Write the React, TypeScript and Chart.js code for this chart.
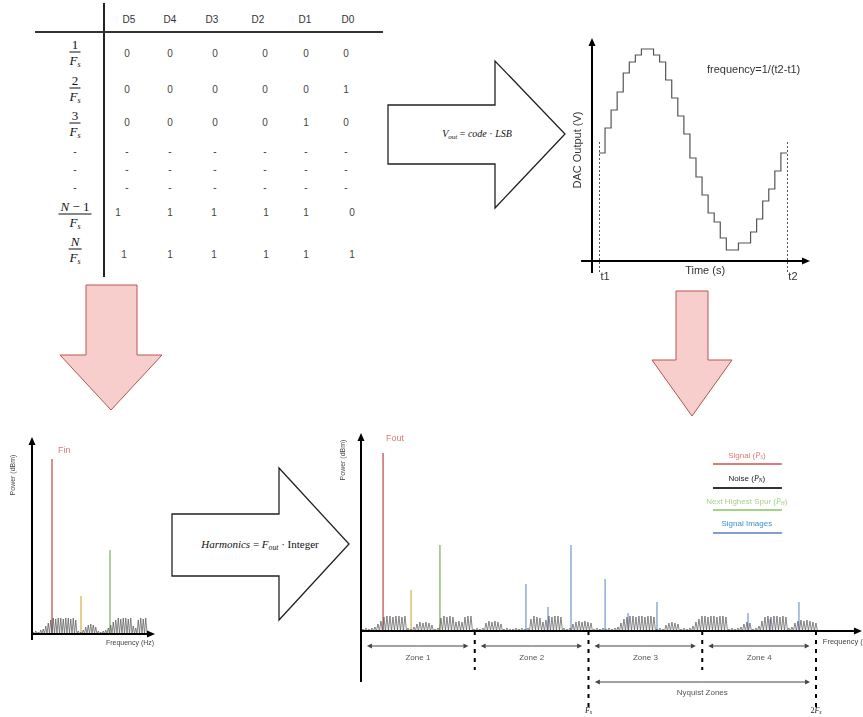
import React, { useEffect, useRef } from "react";
import { Chart, registerables } from "chart.js";
Chart.register(...registerables);

const SANS = '"Liberation Sans", Arial, Helvetica, sans-serif';
const SERIF = '"Liberation Serif", "DejaVu Serif", serif';

// ---------------- Table data ----------------
const bitHeaders = ["D5", "D4", "D3", "D2", "D1", "D0"];
const sampleNumerators = ["1", "2", "3", "-", "-", "-", "N − 1", "N"];
const codeRow1 = ["0", "0", "0", "0", "0", "0"];
const codeRow2 = ["0", "0", "0", "0", "0", "1"];
const codeRow3 = ["0", "0", "0", "0", "1", "0"];
const codeDots = ["-", "-", "-", "-", "-", "-"];
const codeRowNm1 = ["1", "1", "1", "1", "1", "0"];
const codeRowN = ["1", "1", "1", "1", "1", "1"];
const codeRows = [codeRow1, codeRow2, codeRow3, codeDots, codeDots, codeDots, codeRowNm1, codeRowN];

// ---------------- DAC output (staircase) ----------------
const dacSampleTimes = [0, 1, 2, 3, 4, 5, 6, 7, 9, 10, 11, 12, 13, 14, 15, 16, 17, 18, 19, 20, 21, 23, 25, 26, 27, 28, 29, 30, 31];
const dacLevels = [108, 133, 151, 169, 188, 199, 206, 212, 206, 199, 181, 163, 145, 127, 103, 84, 66, 48, 39, 23, 11, 18, 29, 42, 60, 72, 90, 108];

// ---------------- Input spectrum ----------------
const inFundamentalFreq = [20];
const inFundamentalPower = [175];
const inHarmonicFreq = [49];
const inHarmonicPower = [38];
const inSpurFreq = [78];
const inSpurPower = [84];
const inNoiseTeeth = [2, 3, 2, 4, 5, 8, 11, 14, 16, 15, 16, 16, 15, 16, 16, 15, 16, 14, 3, 2, 4, 7, 9, 10, 9, 7, 3, 2, 3, 4, 6, 9, 12, 14, 16, 15, 16, 16, 15, 16, 8, 6, 14, 16, 15, 16];

// ---------------- Output spectrum ----------------
const outSignalFreq = [9.7];
const outSignalPower = [178];
const outHarmonicFreq = [22];
const outHarmonicPower = [41];
const outSpurFreq = [34.7];
const outSpurPower = [86];
const outImageFreq = [72.5, 82.2, 92.3, 107.3, 117.4, 130.1, 170.1, 179.8, 192.5];
const outImagePower = [47, 24, 86, 52, 18, 29, 18, 12, 29];
const outNoiseTeeth = [
  2, 3, 2, 3, 4, 7, 10, 14, 15, 15, 14, 15, 15, 14, 15, 3, 2, 4, 7, 9, 8, 9, 8, 6, 2, 3,
  13, 15, 14, 15, 14, 9, 10, 9, 14, 15, 15, 2, 3, 2, 3, 8, 10, 9, 10, 9, 7,
  2, 3, 2, 2, 3, 2, 3, 2, 3, 12, 15, 14, 13, 9, 11, 15, 14, 15, 15, 14, 3, 2, 3,
  7, 9, 10, 9, 10, 9, 8, 2, 3, 2, 3, 2, 3, 2, 3, 4,
  8, 12, 14, 15, 15, 14, 15, 15, 14, 15, 15, 14, 2, 3, 2, 6, 8, 9, 8, 7, 2, 3, 2, 3, 5,
  9, 12, 15, 15, 14, 15, 15, 14, 15, 15, 14, 2, 3, 2, 3, 4, 7, 9, 8, 2, 3, 5,
  10, 14, 15, 14, 15, 15, 14, 15, 14, 3, 4, 8, 10, 11, 10, 11, 10, 9, 8,
  3, 2, 3, 2, 3, 2, 3, 2, 3, 2,
];
const zoneLabels = ["Zone 1", "Zone 2", "Zone 3", "Zone 4"];
const zoneEdges = [0, 50, 100, 150, 200];
const nyquistMarks = [100, 200];
const legendNames = ["Signal", "Noise", "Next Highest Spur", "Signal Images"];
const legendSubs = ["S", "N", "H", ""];

// ---------------- helpers ----------------
const stems = (freqs: number[], powers: number[]) => {
  const pts: any[] = [];
  freqs.forEach((f, i) => {
    pts.push({ x: f, y: 0 }, { x: f, y: powers[i] }, { x: f, y: null });
  });
  return pts;
};
const zigzag = (teeth: number[], step: number, start: number) => {
  const pts: any[] = [{ x: start, y: 0 }];
  teeth.forEach((h, i) => {
    pts.push({ x: start + (i + 0.5) * step, y: h }, { x: start + (i + 1) * step, y: 0 });
  });
  return pts;
};
const lineDs = (data: any[], color: string, width: number, extra: any = {}) => ({
  data,
  borderColor: color,
  borderWidth: width,
  pointRadius: 0,
  fill: false,
  tension: 0,
  clip: false,
  ...extra,
});

function arrowLine(ctx: CanvasRenderingContext2D, x1: number, y1: number, x2: number, y2: number, width = 2, head = 8, half = 3.5, color = "#000") {
  const ang = Math.atan2(y2 - y1, x2 - x1);
  const bx = x2 - Math.cos(ang) * head;
  const by = y2 - Math.sin(ang) * head;
  ctx.strokeStyle = color;
  ctx.fillStyle = color;
  ctx.lineWidth = width;
  ctx.setLineDash([]);
  ctx.beginPath();
  ctx.moveTo(x1, y1);
  ctx.lineTo(bx, by);
  ctx.stroke();
  ctx.beginPath();
  ctx.moveTo(x2, y2);
  ctx.lineTo(bx + Math.sin(ang) * half, by - Math.cos(ang) * half);
  ctx.lineTo(bx - Math.sin(ang) * half, by + Math.cos(ang) * half);
  ctx.closePath();
  ctx.fill();
}

function doubleArrow(ctx: CanvasRenderingContext2D, x1: number, x2: number, y: number) {
  const m = (x1 + x2) / 2;
  arrowLine(ctx, m, y, x1, y, 1, 5, 2.5, "#444");
  arrowLine(ctx, m, y, x2, y, 1, 5, 2.5, "#444");
}

type Part = [string, string, number];
function rich(ctx: CanvasRenderingContext2D, parts: Part[], x: number, y: number, align: "center" | "left", color: string) {
  let w = 0;
  parts.forEach(([t, f]) => {
    ctx.font = f;
    w += ctx.measureText(t).width;
  });
  let cx = align === "center" ? x - w / 2 : x;
  ctx.fillStyle = color;
  ctx.textAlign = "left";
  ctx.textBaseline = "middle";
  parts.forEach(([t, f, dy]) => {
    ctx.font = f;
    ctx.fillText(t, cx, y + dy);
    cx += ctx.measureText(t).width;
  });
}

function text(ctx: CanvasRenderingContext2D, s: string, x: number, y: number, font: string, color: string, align: CanvasTextAlign = "center", rot = 0) {
  ctx.save();
  ctx.translate(x, y);
  if (rot) ctx.rotate(rot);
  ctx.font = font;
  ctx.fillStyle = color;
  ctx.textAlign = align;
  ctx.textBaseline = "middle";
  ctx.fillText(s, 0, 0);
  ctx.restore();
}

// ---------------- plugins ----------------
const dacDecor = {
  id: "dacDecor",
  afterDraw(chart: any) {
    const { ctx } = chart;
    const X = (v: number) => chart.scales.x.getPixelForValue(v);
    const Y = (v: number) => chart.scales.y.getPixelForValue(v);
    ctx.save();
    ctx.setLineDash([2, 2]);
    ctx.strokeStyle = "#555";
    ctx.lineWidth = 1;
    [dacSampleTimes[0], dacSampleTimes[dacSampleTimes.length - 1]].forEach((t) => {
      ctx.beginPath();
      ctx.moveTo(Math.round(X(t)) + 0.5, Y(119));
      ctx.lineTo(Math.round(X(t)) + 0.5, Y(-12));
      ctx.stroke();
    });
    arrowLine(ctx, X(-1.15), Y(-12), X(-1.15), Y(223));
    arrowLine(ctx, X(-2.95), Y(0), X(34.8), Y(0));
    const f = `11px ${SANS}`;
    text(ctx, "t1", X(0) + 6, Y(0) + 16, f, "#333");
    text(ctx, "t2", X(31) + 6, Y(0) + 16, f, "#333");
    text(ctx, "Time (s)", X(17.5), Y(0) + 10, f, "#333");
    text(ctx, "DAC Output (V)", X(-1.15) - 14, Y(111), f, "#333", "center", -Math.PI / 2);
    text(ctx, "frequency=1/(t2-t1)", X(25.5), Y(191), f, "#333");
    ctx.restore();
  },
};

const inDecor = {
  id: "inDecor",
  afterDraw(chart: any) {
    const { ctx } = chart;
    const X = (v: number) => chart.scales.x.getPixelForValue(v);
    const Y = (v: number) => chart.scales.y.getPixelForValue(v);
    ctx.save();
    arrowLine(ctx, X(0), Y(-6), X(0), Y(197), 2, 8, 3.5);
    arrowLine(ctx, X(0), Y(0), X(123), Y(0), 2, 8, 3.5);
    text(ctx, "Fin", X(26), Y(183), `9px ${SANS}`, "#e07a78", "left");
    text(ctx, "Power (dBm)", X(0) - 19, Y(159), `7px ${SANS}`, "#444", "center", -Math.PI / 2);
    text(ctx, "Frequency (Hz)", X(98), Y(-9), `7px ${SANS}`, "#444");
    ctx.restore();
  },
};

const outDecor = {
  id: "outDecor",
  afterDraw(chart: any) {
    const { ctx } = chart;
    const X = (v: number) => chart.scales.x.getPixelForValue(v);
    const Y = (v: number) => chart.scales.y.getPixelForValue(v);
    ctx.save();
    arrowLine(ctx, X(0), Y(-51), X(0), Y(198), 2, 8, 3.5);
    arrowLine(ctx, X(0), Y(0), X(220.2), Y(0), 2, 8, 3.5);
    // dashed zone dividers
    ctx.setLineDash([4, 5]);
    ctx.strokeStyle = "#000";
    ctx.lineWidth = 2;
    zoneEdges.slice(1).forEach((e) => {
      const long = nyquistMarks.includes(e);
      ctx.beginPath();
      ctx.moveTo(X(e), Y(0));
      ctx.lineTo(X(e), Y(long ? -77 : -39));
      ctx.stroke();
    });
    ctx.setLineDash([]);
    zoneLabels.forEach((z, i) => {
      const a = zoneEdges[i] + 2.6;
      const b = zoneEdges[i + 1] - 2.8;
      doubleArrow(ctx, X(a), X(b), Y(-15));
      text(ctx, z, X((zoneEdges[i] + zoneEdges[i + 1]) / 2), Y(-27), `8px ${SANS}`, "#555");
    });
    doubleArrow(ctx, X(nyquistMarks[0] + 2.8), X(nyquistMarks[1] - 2.6), Y(-51));
    text(ctx, "Nyquist Zones", X(150), Y(-62), `8px ${SANS}`, "#555");
    rich(ctx, [["F", `italic 8px ${SERIF}`, 0], ["s", `italic 6px ${SERIF}`, 1]], X(nyquistMarks[0]), Y(-80), "center", "#222");
    rich(ctx, [["2", `8px ${SERIF}`, 0], ["F", `italic 8px ${SERIF}`, 0], ["s", `italic 6px ${SERIF}`, 1]], X(nyquistMarks[1]), Y(-80), "center", "#222");
    text(ctx, "Frequency (Hz)", X(203), Y(-11), `7.5px ${SANS}`, "#444", "left");
    text(ctx, "Power (dBm)", X(0) - 18, Y(171), `7px ${SANS}`, "#444", "center", -Math.PI / 2);
    text(ctx, "Fout", X(11), Y(192), `9px ${SANS}`, "#e07a78", "left");
    // legend
    const textY = [175, 152, 129, 107];
    const lineY = [167, 143, 121, 98];
    const textColors = ["#e07a78", "#222", "#a6d18a", "#3b8fd0"];
    const lineColors = ["#e07a78", "#333", "#a6d18a", "#7f9fcf"];
    legendNames.forEach((n, i) => {
      const parts: Part[] = legendSubs[i]
        ? [[`${n} (`, `8px ${SANS}`, 0], ["P", `italic 8px ${SERIF}`, 0], [legendSubs[i], `italic 5.5px ${SERIF}`, 1.5], [")", `8px ${SANS}`, 0]]
        : [[n, `8px ${SANS}`, 0]];
      rich(ctx, parts, X(169.6), Y(textY[i]), "center", textColors[i]);
      ctx.strokeStyle = lineColors[i];
      ctx.lineWidth = 2;
      ctx.beginPath();
      ctx.moveTo(X(154.7), Y(lineY[i]));
      ctx.lineTo(X(185), Y(lineY[i]));
      ctx.stroke();
    });
    ctx.restore();
  },
};

const baseOptions = (pad: any, xmin: number, xmax: number, ymin: number, ymax: number) => ({
  animation: false as const,
  responsive: false,
  events: [] as any[],
  layout: { padding: pad },
  plugins: { legend: { display: false }, tooltip: { enabled: false }, title: { display: false } },
  scales: {
    x: { type: "linear" as const, display: false, min: xmin, max: xmax },
    y: { type: "linear" as const, display: false, min: ymin, max: ymax },
  },
});

function ChartBox({ left, top, width, height, make }: { left: number; top: number; width: number; height: number; make: () => any }) {
  const ref = useRef<HTMLCanvasElement>(null);
  useEffect(() => {
    const chart = new Chart(ref.current as HTMLCanvasElement, make());
    return () => chart.destroy();
  }, []);
  return <canvas ref={ref} width={width} height={height} style={{ position: "absolute", left, top, width, height }} />;
}

const makeDac = () => {
  const pts = dacLevels.map((v, i) => ({ x: dacSampleTimes[i], y: v }));
  pts.push({ x: dacSampleTimes[dacSampleTimes.length - 1], y: dacLevels[dacLevels.length - 1] });
  return {
    type: "line",
    data: { datasets: [lineDs(pts, "#555", 1.2, { stepped: "before" })] },
    options: baseOptions({ left: 32, right: 40, top: 8, bottom: 29 }, -1.15, 34.8, 0, 223),
    plugins: [dacDecor],
  };
};

const makeIn = () => ({
  type: "line",
  data: {
    datasets: [
      lineDs(zigzag(inNoiseTeeth, 2.5, 0), "#555", 0.7),
      lineDs(stems(inFundamentalFreq, inFundamentalPower), "#c96a6a", 1.5),
      lineDs(stems(inHarmonicFreq, inHarmonicPower), "#d6b656", 1.3),
      lineDs(stems(inSpurFreq, inSpurPower), "#82b366", 1.3),
    ],
  },
  options: baseOptions({ left: 32, right: 20, top: 12, bottom: 16 }, 0, 123, 0, 197),
  plugins: [inDecor],
});

const makeOut = () => ({
  type: "line",
  data: {
    datasets: [
      lineDs(zigzag(outNoiseTeeth, 1.3187, 0.2), "#555", 0.7),
      lineDs(stems(outImageFreq, outImagePower), "#7f9fcf", 1.3),
      lineDs(stems(outSignalFreq, outSignalPower), "#c96a6a", 1.5),
      lineDs(stems(outHarmonicFreq, outHarmonicPower), "#d6b656", 1.3),
      lineDs(stems(outSpurFreq, outSpurPower), "#82b366", 1.3),
    ],
  },
  options: baseOptions({ left: 26, right: 47, top: 8, bottom: 86 }, 0, 200, 0, 198),
  plugins: [outDecor],
});

// ---------------- table layout ----------------
const headerX = [129, 170, 212, 258, 305, 348];
const cellX = [127, 170, 215, 265, 306, 346];
const cellXNm1 = [118, 170, 214, 266, 306, 352];
const cellXN = [124, 170, 214, 266, 306, 352];
const rowY = [54, 90, 123, 152, 170, 188, 213, 255];
const fracY = [53, 89, 124, 0, 0, 0, 215, 250];

function Num({ s }: { s: string }) {
  return <>{s.split(/(N)/).map((p, i) => (p === "N" ? <i key={i}>N</i> : <span key={i}>{p}</span>))}</>;
}

function Fraction({ num, x, y }: { num: string; x: number; y: number }) {
  return (
    <div style={{ position: "absolute", left: x, top: y, transform: "translate(-50%,-50%)", display: "flex", flexDirection: "column", alignItems: "center", fontFamily: SERIF, fontSize: 13, lineHeight: "15px", color: "#111" }}>
      <div style={{ padding: "0 2px", whiteSpace: "nowrap" }}>
        <Num s={num} />
      </div>
      <div style={{ alignSelf: "stretch", borderTop: "1px solid #111" }} />
      <div style={{ whiteSpace: "nowrap" }}>
        <i>F</i>
        <i style={{ fontSize: 8, position: "relative", top: 2 }}>s</i>
      </div>
    </div>
  );
}

const cellStyle = (x: number, y: number, size = 10, color = "#444"): React.CSSProperties => ({
  position: "absolute",
  left: x,
  top: y,
  transform: "translate(-50%,-50%)",
  fontFamily: SANS,
  fontSize: size,
  color,
  whiteSpace: "nowrap",
  lineHeight: "12px",
});

function Table() {
  return (
    <>
      <div style={{ position: "absolute", left: 103, top: 3, width: 2, height: 274, background: "#222" }} />
      <div style={{ position: "absolute", left: 35, top: 31, width: 348, height: 2, background: "#333" }} />
      {bitHeaders.map((h, i) => (
        <div key={h} style={cellStyle(headerX[i], 20, 10, "#333")}>{h}</div>
      ))}
      {sampleNumerators.map((n, r) =>
        n === "-" ? (
          <div key={"f" + r} style={cellStyle(75, rowY[r], 10, "#333")}>-</div>
        ) : (
          <Fraction key={"f" + r} num={n} x={75} y={fracY[r]} />
        )
      )}
      {codeRows.map((row, r) =>
        row.map((v, c) => {
          const xs = r === 6 ? cellXNm1 : r === 7 ? cellXN : cellX;
          return (
            <div key={r + "-" + c} style={cellStyle(xs[c], rowY[r], 10, v === "-" ? "#333" : "#444")}>{v}</div>
          );
        })
      )}
    </>
  );
}

function Arrows() {
  return (
    <svg width={863} height={717} style={{ position: "absolute", left: 0, top: 0 }}>
      <polygon points="388,105 495,105 495,61 565,134 495,208 495,164 388,164" fill="#fff" stroke="#222" strokeWidth={1.3} />
      <polygon points="172,514 279,514 279,468 349,544 279,620 279,576 172,576" fill="#fff" stroke="#222" strokeWidth={1.3} />
      <polygon points="86,285 137,285 137,355 162,355 111,410 60,355 86,355" fill="#f8cecc" stroke="#b85450" strokeWidth={1} />
      <polygon points="676,291 708,291 708,360 732,360 692,416 652,360 676,360" fill="#f8cecc" stroke="#b85450" strokeWidth={1} />
    </svg>
  );
}

const mathStyle = (x: number, y: number, size: number): React.CSSProperties => ({
  position: "absolute",
  left: x,
  top: y,
  transform: "translate(-50%,-50%)",
  fontFamily: SERIF,
  fontSize: size,
  color: "#111",
  whiteSpace: "nowrap",
  lineHeight: "14px",
});
const subStyle: React.CSSProperties = { fontSize: "0.7em", position: "relative", top: "0.3em" };

export default function App() {
  return (
    <div style={{ position: "fixed", left: 0, top: 0, width: 863, height: 717, background: "#fff", overflow: "hidden" }}>
      <Arrows />
      <Table />
      <div style={mathStyle(477, 134, 10)}>
        <i>V</i>
        <i style={subStyle}>out</i> = <i>code</i> · <i>LSB</i>
      </div>
      <div style={mathStyle(260, 545, 11)}>
        <i>Harmonics</i> = <i>F</i>
        <i style={subStyle}>out</i> · Integer
      </div>
      <ChartBox left={560} top={30} width={290} height={260} make={makeDac} />
      <ChartBox left={0} top={425} width={175} height={225} make={makeIn} />
      <ChartBox left={335} top={425} width={528} height={292} make={makeOut} />
    </div>
  );
}
